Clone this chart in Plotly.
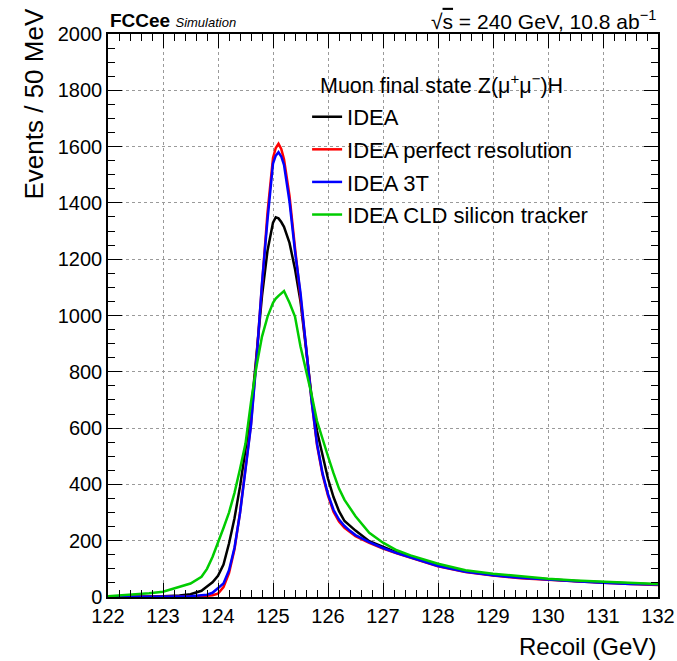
import plotly.graph_objects as go

# Recoil mass (GeV) sample points
recoil = [122.0, 122.25, 122.5, 122.75, 123.0, 123.3, 123.5, 123.7, 123.8, 123.9,
          124.0, 124.1, 124.2, 124.3, 124.4, 124.5, 124.6, 124.7, 124.8, 124.9,
          125.0, 125.05, 125.1, 125.15, 125.2, 125.3, 125.4, 125.5, 125.6, 125.7,
          125.8, 125.9, 126.0, 126.1, 126.2, 126.3, 126.4, 126.5, 126.75, 127.0,
          127.25, 127.5, 128.0, 128.5, 129.0, 129.5, 130.0, 130.5, 131.0, 131.5, 132.0]

idea = [0, 0, 1, 2, 3, 5, 10, 22, 37, 52,
        75, 115, 190, 280, 392, 520, 655, 860, 1070, 1230,
        1330, 1349, 1345, 1332, 1315, 1258, 1165, 1050, 880, 715,
        590, 500, 420, 355, 305, 270, 252, 236, 198, 177,
        158, 142, 112, 91, 78, 69, 62, 57, 52, 47, 44]

idea_perfect = [0, 0, 0, 0, 1, 1, 2, 3, 4, 6,
                12, 35, 85, 170, 300, 455, 615, 850, 1125, 1365,
                1560, 1595, 1610, 1592, 1555, 1425, 1240, 1075, 890, 700,
                540, 435, 360, 303, 268, 246, 230, 216, 192, 172,
                155, 139, 109, 89, 76, 67, 61, 56, 51, 46, 43]

idea_3t = [0, 0, 0, 1, 1, 2, 3, 5, 8, 15,
           30, 48, 95, 175, 297, 455, 610, 840, 1115, 1340,
           1540, 1568, 1580, 1565, 1535, 1405, 1228, 1080, 890, 700,
           545, 440, 365, 310, 275, 252, 235, 220, 195, 174,
           156, 140, 110, 90, 77, 68, 61, 56, 51, 46, 44]

idea_cld = [3, 6, 9, 13, 19, 35, 48, 72, 100, 142,
            190, 245, 300, 370, 455, 545, 692, 820, 925, 995,
            1045, 1060, 1070, 1080, 1087, 1045, 996, 890, 810, 720,
            625, 560, 500, 440, 385, 345, 315, 287, 228, 193,
            166, 148, 118, 95, 83, 73, 65, 59, 54, 49, 46]

series_names = ["IDEA", "IDEA perfect resolution", "IDEA 3T", "IDEA CLD silicon tracker"]
series_values = [idea, idea_perfect, idea_3t, idea_cld]
series_colors = ["#000000", "#ff0000", "#0000ff", "#00cc00"]

x_ticks = [122, 123, 124, 125, 126, 127, 128, 129, 130, 131, 132]
y_ticks = [0, 200, 400, 600, 800, 1000, 1200, 1400, 1600, 1800, 2000]

FONT = "Liberation Sans, Arial, Helvetica, sans-serif"

fig = go.Figure()
for i, (name, vals, col) in enumerate(zip(series_names, series_values, series_colors)):
    fig.add_trace(go.Scatter(x=recoil, y=vals, mode="lines", name=name,
                             legendgroup=f"g{i}",
                             line=dict(color=col, width=2.5)))

# invisible trace to activate the top/right tick axes
fig.add_trace(go.Scatter(x=[122, 132], y=[0, 2000], xaxis="x2", yaxis="y2",
                         mode="markers", marker=dict(opacity=0), showlegend=False,
                         hoverinfo="skip"))

axis_common = dict(
    showline=True, linecolor="black", linewidth=1.5,
    ticks="inside", tickcolor="black", tickwidth=1,
    zeroline=False, automargin=False,
    tickfont=dict(family=FONT, size=20, color="black"),
)

fig.update_layout(
    width=677, height=661,
    margin=dict(l=108, r=19, t=34, b=64, autoexpand=False),
    paper_bgcolor="white", plot_bgcolor="white",
    font=dict(family=FONT, color="black"),
    xaxis=dict(range=[122, 132], tickvals=x_ticks, ticklen=14, ticklabeloverflow="allow",
               showgrid=True, gridcolor="#9a9a9a", griddash="dot", gridwidth=1,
               minor=dict(dtick=0.2, ticks="inside", ticklen=7, tickcolor="black", showgrid=False),
               **axis_common),
    yaxis=dict(range=[0, 2000], tickvals=y_ticks, ticklen=14, ticklabeloverflow="allow",
               showgrid=True, gridcolor="#9a9a9a", griddash="dot", gridwidth=1,
               minor=dict(dtick=50, ticks="inside", ticklen=7, tickcolor="black", showgrid=False),
               **axis_common),
    xaxis2=dict(range=[122, 132], tickvals=x_ticks, ticklen=14, overlaying="x", side="top",
                showticklabels=False, showgrid=False,
                minor=dict(dtick=0.2, ticks="inside", ticklen=7, tickcolor="black", showgrid=False),
                **axis_common),
    yaxis2=dict(range=[0, 2000], tickvals=y_ticks, ticklen=14, overlaying="y", side="right",
                showticklabels=False, showgrid=False,
                minor=dict(dtick=50, ticks="inside", ticklen=7, tickcolor="black", showgrid=False),
                **axis_common),
    legend=dict(
        x=0.362, y=0.89, xanchor="left", yanchor="top",
        bgcolor="rgba(0,0,0,0)", borderwidth=0,
        font=dict(family=FONT, size=22, color="black"),
        tracegroupgap=1, itemwidth=30,
    ),
    showlegend=True,
)

fig.add_annotation(text="Muon final state Z(μ<sup>+</sup>μ<sup>−</sup>)H",
                   xref="paper", yref="paper", x=0.382, y=0.911, xanchor="left", yanchor="middle",
                   showarrow=False, font=dict(family=FONT, size=21.5, color="black"))
fig.add_annotation(text="<b>FCCee</b> <i><span style='font-size:13px'>Simulation</span></i>",
                   xref="paper", yref="paper", x=0, y=1, xanchor="left", yanchor="bottom",
                   yshift=1, showarrow=False, font=dict(family=FONT, size=19, color="black"))
fig.add_annotation(text="√<span style='text-decoration:overline'>s</span> = 240 GeV, 10.8 ab<sup>−1</sup>",
                   xref="paper", yref="paper", x=1, y=1, xanchor="right", yanchor="bottom",
                   yshift=-1, showarrow=False, font=dict(family=FONT, size=21, color="black"))
fig.add_annotation(text="Events / 50 MeV", textangle=-90,
                   xref="paper", yref="paper", x=0, y=1, xanchor="right", yanchor="top",
                   xshift=-58, yshift=27, showarrow=False,
                   font=dict(family=FONT, size=26, color="black"))
fig.add_annotation(text="Recoil (GeV)",
                   xref="paper", yref="paper", x=1, y=0, xanchor="right", yanchor="top",
                   yshift=-34, showarrow=False,
                   font=dict(family=FONT, size=24, color="black"))

fig.write_html("out.html")
